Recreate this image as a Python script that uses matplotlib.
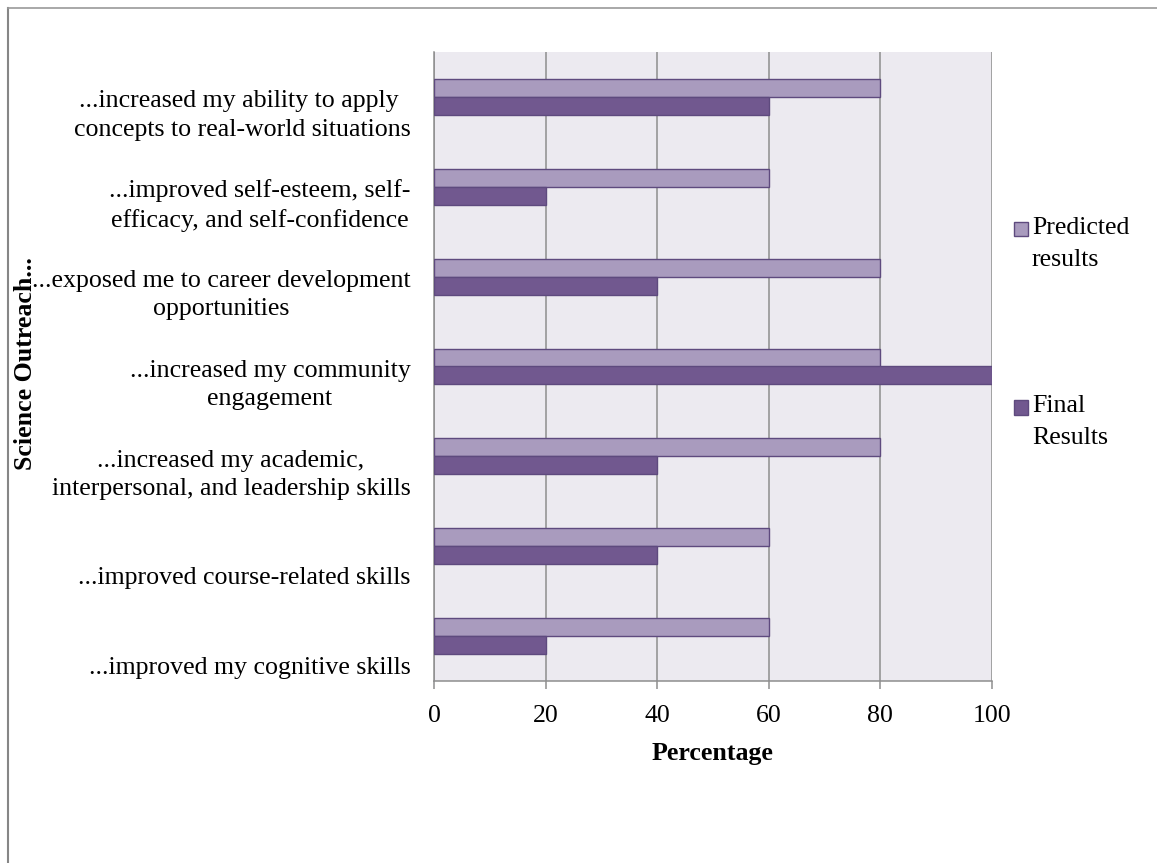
import matplotlib
matplotlib.use("Agg")
import matplotlib.pyplot as plt
import numpy as np
from matplotlib.lines import Line2D
from matplotlib.patches import Rectangle
from matplotlib.transforms import ScaledTranslation

categories = [
    "...improved my cognitive skills",
    "...improved course-related skills",
    "...increased my academic,\ninterpersonal, and leadership skills",
    "...increased my community\nengagement",
    "...exposed me to career development\nopportunities",
    "...improved self-esteem, self-\nefficacy, and self-confidence",
    "...increased my ability to apply \nconcepts to real-world situations",
]
predicted = [60, 60, 80, 80, 80, 60, 80]
final = [20, 40, 40, 100, 40, 20, 60]
xticks = [0, 20, 40, 60, 80, 100]
series_names = ["Predicted\nresults", "Final\nResults"]

plt.rcParams['font.family'] = ['Liberation Serif', 'DejaVu Serif']
FS = 18.6

W, H = 1157, 863
fig = plt.figure(figsize=(W / 100, H / 100), dpi=100)
ax = fig.add_axes([434 / W, 1 - 681 / H, 558 / W, 629 / H])

c_pred = "#A99BBE"
c_final = "#71588F"
edge = "#5E4A7E"
grid_c = "#8E8E8E"

y = np.arange(len(categories))
ax.barh(y + 0.1, predicted, height=0.2, color=c_pred, edgecolor=edge, linewidth=1.0, zorder=3)
ax.barh(y - 0.1, final, height=0.2, color=c_final, edgecolor=edge, linewidth=1.0, zorder=3)

ax.set_facecolor("#ECEAF0")
ax.set_xlim(0, 100)
ax.set_ylim(-0.5, len(categories) - 0.5)
ax.set_xticks(xticks)
ax.set_xticklabels([str(t) for t in xticks], fontsize=FS)
ax.set_yticks(y)
ax.set_yticklabels(categories, fontsize=FS, multialignment='center', linespacing=1.36)
ax.tick_params(axis='y', length=0, pad=17)
ax.tick_params(axis='x', length=6, width=1.1, color=grid_c, pad=11)
ax.xaxis.grid(True, color=grid_c, linewidth=1.1, zorder=1)
ax.set_axisbelow(True)
for s in ["top", "right"]:
    ax.spines[s].set_visible(False)
for s in ["left", "bottom"]:
    ax.spines[s].set_color(grid_c)
    ax.spines[s].set_linewidth(1.1)

# Excel-like placement of the category labels (first line near the bar centre)
for lab in ax.get_yticklabels():
    nlines = lab.get_text().count("\n") + 1
    dy = 13 if nlines == 2 else 29
    lab.set_transform(lab.get_transform() + ScaledTranslation(0, -dy / 100, fig.dpi_scale_trans))

ax.set_xlabel("Percentage", fontsize=FS, fontweight='bold', labelpad=11)
fig.text(26 / W, 1 - 364 / H, "Science Outreach...", rotation=90, fontsize=FS,
         fontweight='bold', ha='center', va='center')

# legend (manual placement)
for name, col, yc in [(series_names[0], c_pred, 229.5), (series_names[1], c_final, 407.5)]:
    sq = 14
    fig.add_artist(Rectangle(((1020.5 - sq / 2) / W, 1 - (yc + sq / 2) / H), sq / W, sq / H,
                             transform=fig.transFigure, facecolor=col, edgecolor=edge, linewidth=1))
    fig.text(1032 / W, 1 - (yc - 13) / H, name, fontsize=FS, ha='left', va='top', linespacing=1.62)

# outer frame
fig.add_artist(Line2D([7.5 / W, 7.5 / W], [0, 1 - 8 / H], transform=fig.transFigure, color="#868686", linewidth=1.5))
fig.add_artist(Line2D([7.5 / W, 1], [1 - 8 / H, 1 - 8 / H], transform=fig.transFigure, color="#9A9A9A", linewidth=1.2))

fig.savefig("out.png", dpi=100)
